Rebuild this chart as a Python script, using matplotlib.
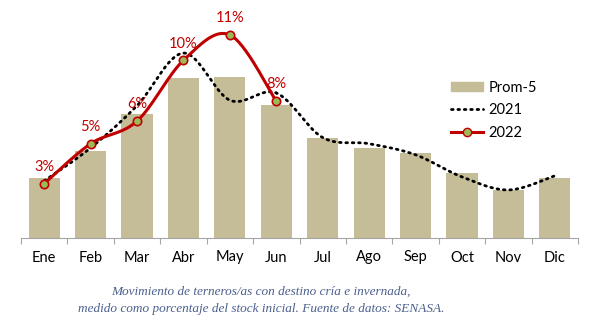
import numpy as np
import matplotlib.pyplot as plt
from matplotlib.lines import Line2D
from matplotlib.patches import Patch

MESES = ['Ene', 'Feb', 'Mar', 'Abr', 'May', 'Jun',
         'Jul', 'Ago', 'Sep', 'Oct', 'Nov', 'Dic']
PROM5 = [3.33, 4.81, 6.83, 8.82, 8.90, 7.35, 5.54, 4.97, 4.70, 3.59, 2.65, 3.31]
A2021 = [3.15, 4.97, 7.3, 10.2, 7.6, 8.0, 5.54, 5.2, 4.59, 3.37, 2.65, 3.43]
A2022 = [3.0, 5.2, 6.45, 9.8, 11.2, 7.55]

BAR_COLOR = '#c5bd97'
RED = '#c00000'
GREEN = '#9bbb59'
CAPTION = '#4a5f8f'
FONT = 'Lato'


def suave(xs, ys, n=30):
    '''curva tipo Excel (Catmull-Rom) entre los puntos'''
    xs = np.asarray(xs, float)
    ys = np.asarray(ys, float)
    px = np.concatenate([[xs[0]], xs, [xs[-1]]])
    py = np.concatenate([[ys[0]], ys, [ys[-1]]])
    out_x, out_y = [], []
    t = np.linspace(0, 1, n)
    for i in range(1, len(px) - 2):
        for p, out in ((px, out_x), (py, out_y)):
            p0, p1, p2, p3 = p[i - 1], p[i], p[i + 1], p[i + 2]
            seg = 0.5 * (2 * p1 + (-p0 + p2) * t
                         + (2 * p0 - 5 * p1 + 4 * p2 - p3) * t ** 2
                         + (-p0 + 3 * p1 - 3 * p2 + p3) * t ** 3)
            out.extend(seg)
    return np.array(out_x), np.array(out_y)


fig = plt.figure(figsize=(6.02, 3.28), dpi=100)
ax = fig.add_axes([21 / 602, (328 - 238) / 328, 557 / 602, 223 / 328])

x = np.arange(len(MESES))
ax.bar(x, PROM5, width=0.67, color=BAR_COLOR, zorder=1)

DOTS = (0, (0.6, 1.7))
sx, sy = suave(x, A2021)
ax.plot(sx, sy, color='black', linestyle=DOTS, linewidth=2.0,
        dash_capstyle='round', zorder=2)

x22 = x[:len(A2022)]
sx, sy = suave(x22, A2022)
ax.plot(sx, sy, color=RED, linewidth=2.2, zorder=3)
ax.plot(x22, A2022, linestyle='none', marker='o', markersize=6,
        markerfacecolor=GREEN, markeredgecolor=RED, markeredgewidth=1.2,
        zorder=4)
for xi, v in zip(x22, A2022):
    ax.annotate(f'{v:.0f}%', (xi, v), xytext=(0, 12), textcoords='offset points',
                ha='center', va='center', color=RED, fontsize=10.5,
                family=FONT)

ax.set_xlim(-0.5, len(MESES) - 0.5)
ax.set_ylim(0, 12.3)
ax.set_yticks([])
for s in ('left', 'right', 'top'):
    ax.spines[s].set_visible(False)
ax.spines['bottom'].set_color('#a6a6a6')
ax.set_xticks(np.arange(-0.5, len(MESES), 1.0))
ax.set_xticklabels([])
ax.set_xticks(x, minor=True)
ax.set_xticklabels(MESES, minor=True, fontsize=10.5, family=FONT)
ax.tick_params(axis='x', which='major', length=4, color='#a6a6a6')
ax.tick_params(axis='x', which='minor', length=0, pad=9)

handles = [Patch(color=BAR_COLOR),
           Line2D([], [], color='black', linestyle=DOTS,
                  linewidth=2.0, dash_capstyle='round'),
           Line2D([], [], color=RED, linewidth=2.2, marker='o', markersize=6,
                  markerfacecolor=GREEN, markeredgecolor=RED)]
ax.legend(handles, ['Prom-5', '2021', '2022'], loc='upper left',
          bbox_to_anchor=(0.749, 0.765), frameon=False, handlelength=2.2,
          handleheight=0.6, labelspacing=0.6, handletextpad=0.35,
          prop={'family': FONT, 'size': 10.5})

fig.text(261 / 602, 1 - 292 / 328,
         'Movimiento de terneros/as con destino cría e invernada,',
         ha='center', va='center', style='italic', color=CAPTION,
         family='Liberation Serif', fontsize=9.5)
fig.text(261 / 602, 1 - 309 / 328,
         'medido como porcentaje del stock inicial. Fuente de datos: SENASA.',
         ha='center', va='center', style='italic', color=CAPTION,
         family='Liberation Serif', fontsize=9.5)

fig.savefig('out.png', dpi=100)
